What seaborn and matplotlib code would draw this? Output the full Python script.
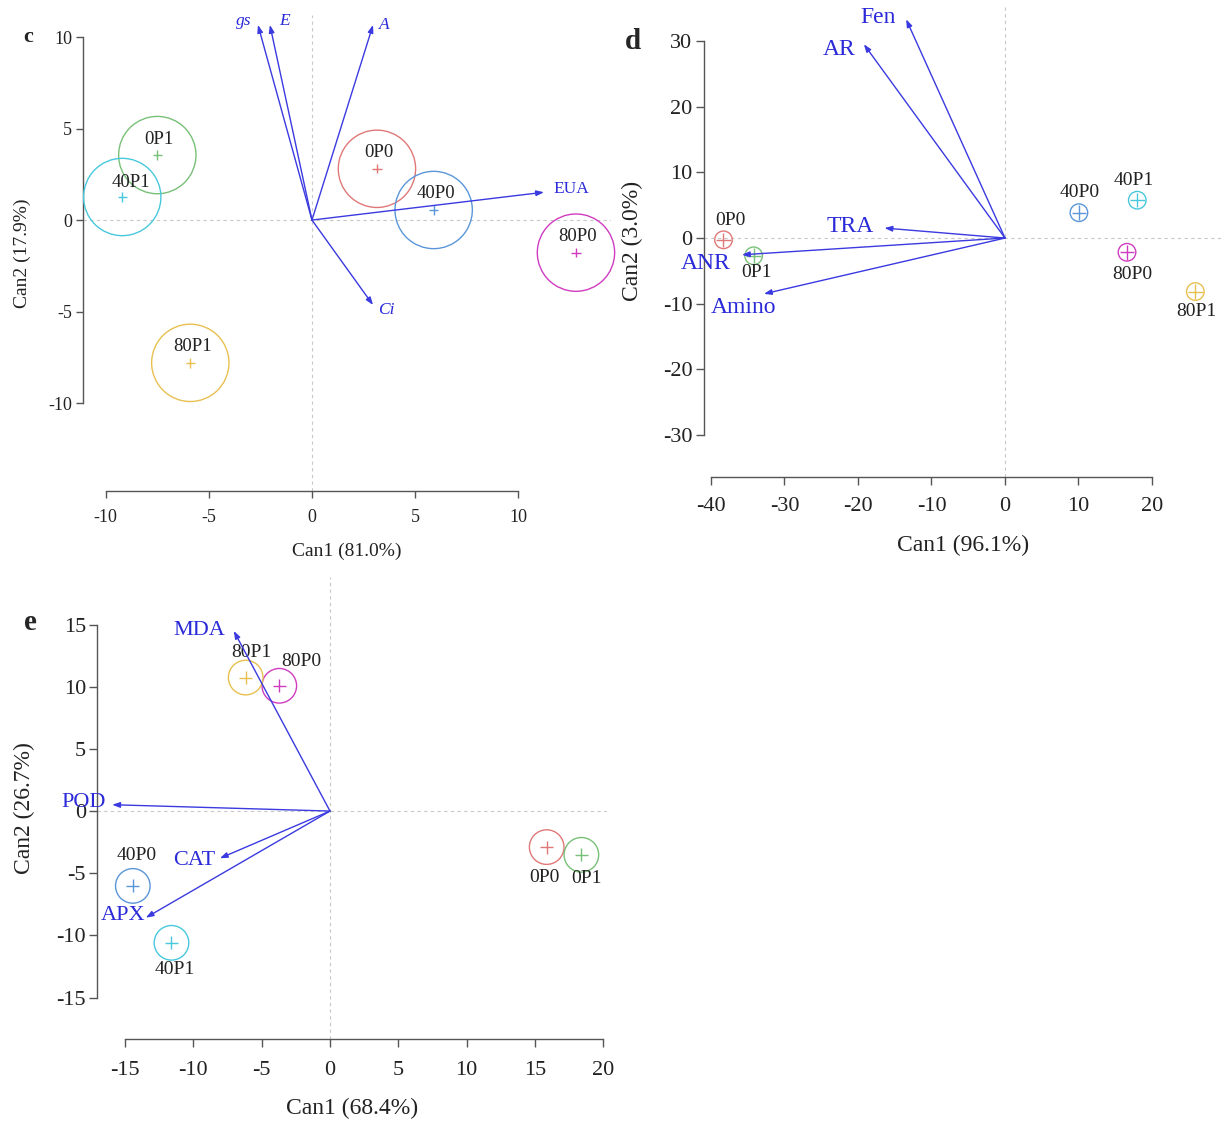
import matplotlib
matplotlib.use('Agg')
import matplotlib.pyplot as plt
import seaborn as sns
import pandas as pd

sns.set_theme(style='white')
plt.rcParams['font.family'] = ['Liberation Serif', 'DejaVu Serif']
plt.rcParams['axes.unicode_minus'] = False

# ---------------- data ----------------
groups = ['0P0', '0P1', '40P0', '40P1', '80P0', '80P1']

# panel c
c_x = [3.15, -7.5, 5.9, -9.2, 12.8, -5.9]
c_y = [2.8, 3.55, 0.55, 1.26, -1.78, -7.8]
c_vars = ['gs', 'E', 'A', 'EUA', 'Ci']
c_vx = [-2.62, -2.04, 2.96, 11.25, 2.96]
c_vy = [10.66, 10.66, 10.66, 1.52, -4.64]

# panel d
d_x = [-38.3, -34.2, 10.06, 18.0, 16.6, 25.9]
d_y = [-0.27, -2.7, 3.86, 5.76, -2.17, -8.15]
d_vars = ['Fen', 'AR', 'TRA', 'ANR', 'Amino']
d_vx = [-13.45, -19.2, -16.4, -35.8, -32.8]
d_vy = [33.3, 29.5, 1.52, -2.55, -8.5]

# panel e
e_x = [15.86, 18.4, -14.43, -11.6, -3.71, -6.17]
e_y = [-2.9, -3.52, -6.02, -10.6, 10.08, 10.74]
e_vars = ['MDA', 'POD', 'CAT', 'APX']
e_vx = [-7.04, -15.94, -8.06, -13.48]
e_vy = [14.49, 0.51, -3.8, -8.58]

# ---------------- styles ----------------
palette = {'0P0': '#e07878', '0P1': '#78c078', '40P0': '#5a96d8',
           '40P1': '#48c8dc', '80P0': '#d03cc0', '80P1': '#e8c050'}
ARROW = '#3a3ae0'
LABEL_BLUE = '#2a2ad8'
SPINE = '#555555'

fig = plt.figure(figsize=(12.25, 11.22), dpi=100)


def base_axes(rect, xlim, ylim, xb, yb, xt, yt, tsize, tlen, xpad, ypad):
    ax = fig.add_axes(rect)
    ax.set_xlim(*xlim)
    ax.set_ylim(*ylim)
    for s in ['top', 'right']:
        ax.spines[s].set_visible(False)
    for s in ['left', 'bottom']:
        ax.spines[s].set_color(SPINE)
        ax.spines[s].set_linewidth(1.0)
    ax.spines['bottom'].set_bounds(*xb)
    ax.spines['left'].set_bounds(*yb)
    ax.set_xticks(xt)
    ax.set_yticks(yt)
    ax.set_xticklabels([str(v) for v in xt])
    ax.set_yticklabels([str(v) for v in yt])
    ax.tick_params(direction='out', length=tlen, width=1, color=SPINE,
                   labelsize=tsize, labelcolor='#222222')
    ax.tick_params(axis='x', pad=xpad, bottom=True)
    ax.tick_params(axis='y', pad=ypad, left=True)
    ax.axhline(0, color='#c8c8c8', lw=0.8, ls=(0, (3, 3)), zorder=0)
    ax.axvline(0, color='#c8c8c8', lw=0.8, ls=(0, (3, 3)), zorder=0)
    ax.grid(False)
    return ax


def draw_groups(ax, xs, ys, circ_s, plus_s, offsets, fsize):
    df = pd.DataFrame({'x': xs, 'y': ys, 'g': groups})
    ax.scatter(df['x'], df['y'], s=circ_s, facecolors='none',
               edgecolors=[palette[g] for g in df['g']], linewidths=1.0,
               clip_on=False, zorder=3)
    sns.scatterplot(data=df, x='x', y='y', hue='g', palette=palette,
                    marker='+', s=plus_s, linewidth=1.0, legend=False,
                    ax=ax, zorder=4, clip_on=False)
    for g, x, y in zip(groups, xs, ys):
        dx, dy = offsets[g]
        ax.annotate(g, (x, y), xytext=(dx * 0.72, dy * 0.72),
                    textcoords='offset points', ha='center', va='center',
                    fontsize=fsize, color='#222222', annotation_clip=False,
                    zorder=5)


def draw_vectors(ax, names, vx, vy, offsets, fsize, italic=(), mscale=9):
    for n, x, y in zip(names, vx, vy):
        ax.annotate('', xy=(x, y), xytext=(0, 0),
                    arrowprops=dict(arrowstyle='-|>,head_length=0.5,head_width=0.18',
                                    color=ARROW, lw=1.0, mutation_scale=mscale,
                                    shrinkA=0, shrinkB=0),
                    annotation_clip=False, zorder=6)
        dx, dy = offsets[n]
        ax.annotate(n, (x, y), xytext=(dx * 0.72, dy * 0.72),
                    textcoords='offset points', ha='center', va='center',
                    fontsize=fsize, color=LABEL_BLUE,
                    fontstyle='italic' if n in italic else 'normal',
                    annotation_clip=False, zorder=7)


# ---------------- panel c ----------------
axc = base_axes([0.0678, 0.5624, 0.431, 0.4242], (-11.1, 14.5), (-14.8, 11.2),
                (-10, 10), (-10, 10), [-10, -5, 0, 5, 10], [-10, -5, 0, 5, 10],
                13, 5, 8, 3)
c_off = {g: (2, 16) for g in groups}
c_off['40P1'] = (9, 14)
draw_groups(axc, c_x, c_y, 3100, 45, c_off, 13.5)
c_voff = {'gs': (-14, 4), 'E': (15, 4), 'A': (11, 0), 'EUA': (27, 3), 'Ci': (13, -5)}
draw_vectors(axc, c_vars, c_vx, c_vy, c_voff, 12.5, italic=('gs', 'E', 'A', 'Ci'))
axc.set_xlabel('Can1 (81.0%)', fontsize=14, color='#222222', labelpad=12)
axc.set_ylabel('Can2 (17.9%)', fontsize=14, color='#222222', labelpad=12)

# ---------------- panel d ----------------
axd = base_axes([0.5744, 0.5753, 0.423, 0.4204], (-41, 29.5), (-36.3, 35.5),
                (-40, 20), (-30, 30), [-40, -30, -20, -10, 0, 10, 20],
                [-30, -20, -10, 0, 10, 20, 30], 16, 6, 9, 2)
d_off = {'0P0': (7, 19), '0P1': (3, -17), '40P0': (1, 20), '40P1': (-4, 20),
         '80P0': (5, -22), '80P1': (1, -20)}
draw_groups(axd, d_x, d_y, 160, 110, d_off, 14)
d_voff = {'Fen': (-28, 2), 'AR': (-25, -5), 'TRA': (-34, 2), 'ANR': (-36, -9),
          'Amino': (-20, -14)}
draw_vectors(axd, d_vars, d_vx, d_vy, d_voff, 17)
axd.set_xlabel('Can1 (96.1%)', fontsize=17, color='#222222', labelpad=13)
axd.set_ylabel('Can2 (3.0%)', fontsize=17, color='#222222', labelpad=14)

# ---------------- panel e ----------------
axe = base_axes([0.0792, 0.0744, 0.4166, 0.411], (-17.05, 20.3), (-18.3, 18.8),
                (-15, 20), (-15, 15), [-15, -10, -5, 0, 5, 10, 15, 20],
                [-15, -10, -5, 0, 5, 10, 15], 16, 6, 10, 2)
e_off = {'80P1': (6, 25), '80P0': (22, 24), '40P0': (4, 30), '40P1': (3, -27),
         '0P0': (-2, -30), '0P1': (5, -24)}
draw_groups(axe, e_x, e_y, 620, 90, e_off, 14)
e_voff = {'MDA': (-34, 0), 'POD': (-29, 2), 'CAT': (-26, -2), 'APX': (-23, 2)}
draw_vectors(axe, e_vars, e_vx, e_vy, e_voff, 16)
axe.set_xlabel('Can1 (68.4%)', fontsize=17, color='#222222', labelpad=13)
axe.set_ylabel('Can2 (26.7%)', fontsize=17, color='#222222', labelpad=15)

# panel letters
fig.text(0.0229, 0.967, 'c', fontsize=16, fontweight='bold', ha='center', va='center')
fig.text(0.5167, 0.9626, 'd', fontsize=21, fontweight='bold', ha='center', va='center')
fig.text(0.0245, 0.4456, 'e', fontsize=21, fontweight='bold', ha='center', va='center')

fig.savefig('out.png', dpi=100)
